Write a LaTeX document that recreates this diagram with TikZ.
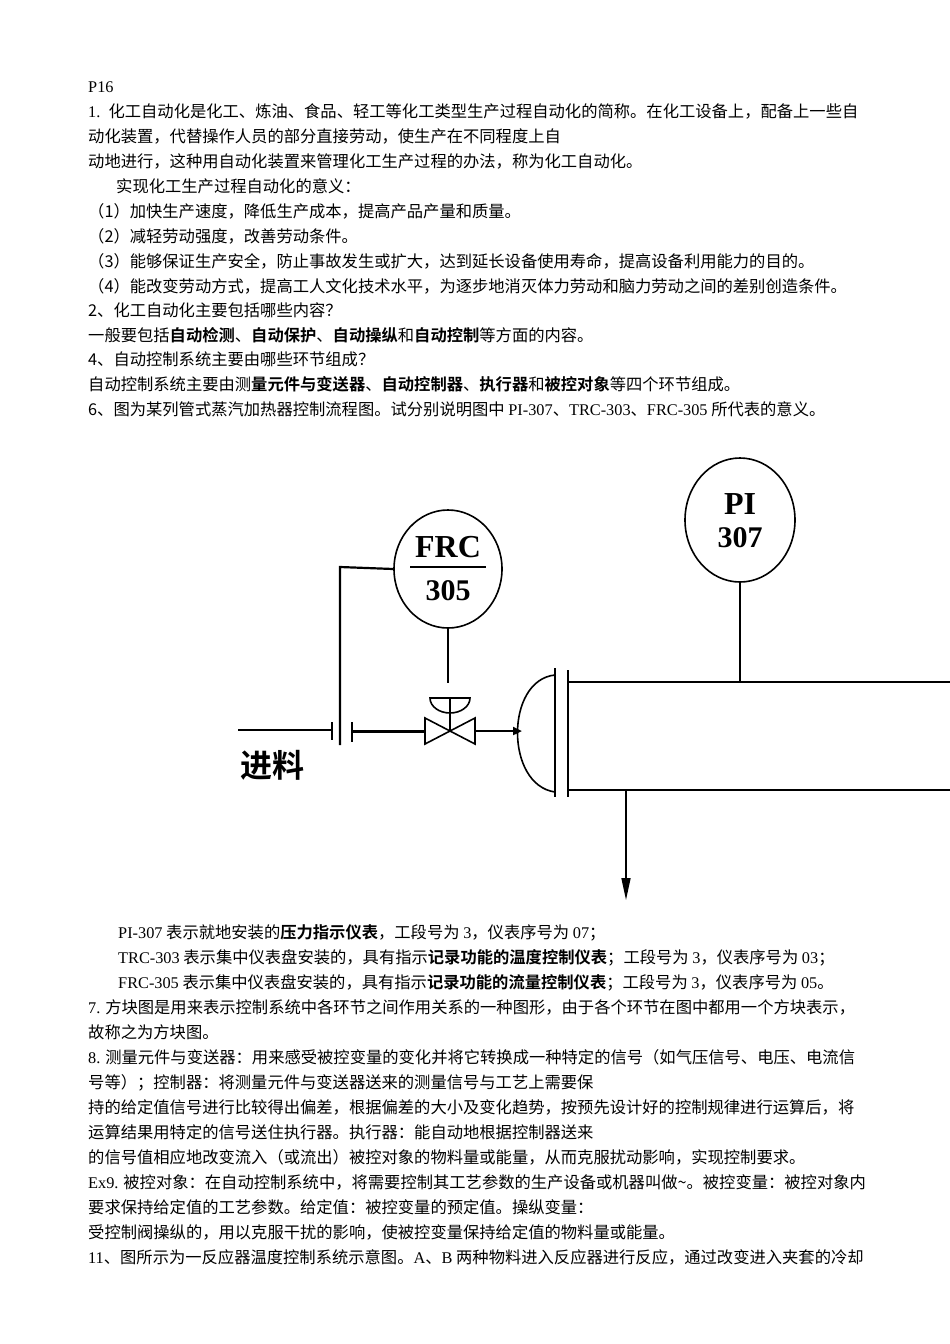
\documentclass[tikz,border=0pt]{standalone}
\usepackage{fontspec}
\setmainfont{Noto Sans CJK SC}[BoldFont={Noto Sans CJK SC Bold}]
\newfontfamily\lat{Liberation Serif}
\usetikzlibrary{arrows.meta,shapes.geometric}
\begin{document}
\begin{tikzpicture}[x=1pt,y=-1pt,
  txt/.style={anchor=base west,inner sep=0pt,font=\fontsize{16.3}{18}\selectfont},
  pipe/.style={line width=2.2pt},
  thin/.style={line width=1.6pt}]
\useasboundingbox[fill=white] (0,0) rectangle (950,1344);
\node[txt] (l0) at (88,92) {\lat P16};
\node[txt] (l1) at (88,117) {\lat 1.\ \ \normalfont 化工自动化是化工、炼油、食品、轻工等化工类型生产过程自动化的简称。在化工设备上，配备上一些自};
\node[txt] (l2) at (88,142) {动化装置，代替操作人员的部分直接劳动，使生产在不同程度上自};
\node[txt] (l3) at (88,167) {动地进行，这种用自动化装置来管理化工生产过程的办法，称为化工自动化。};
\node[txt] (l4) at (116,192) {实现化工生产过程自动化的意义：};
\node[txt] (l5) at (88,217) {（1）加快生产速度，降低生产成本，提高产品产量和质量。};
\node[txt] (l6) at (88,242) {（2）减轻劳动强度，改善劳动条件。};
\node[txt] (l7) at (88,267) {（3）能够保证生产安全，防止事故发生或扩大，达到延长设备使用寿命，提高设备利用能力的目的。};
\node[txt] (l8) at (88,292) {（4）能改变劳动方式，提高工人文化技术水平，为逐步地消灭体力劳动和脑力劳动之间的差别创造条件。};
\node[txt] (l9) at (88,316) {2、化工自动化主要包括哪些内容？};
\node[txt] (l10) at (88,341) {一般要包括\textbf{自动检测}、\textbf{自动保护}、\textbf{自动操纵}和\textbf{自动控制}等方面的内容。};
\node[txt] (l11) at (88,365) {4、自动控制系统主要由哪些环节组成？};
\node[txt] (l12) at (88,390) {自动控制系统主要由测\textbf{量元件与变送器}、\textbf{自动控制器}、\textbf{执行器}和\textbf{被控对象}等四个环节组成。};
\node[txt] (l13) at (88,415) {6、图为某列管式蒸汽加热器控制流程图。试分别说明图中 {\lat PI-307}、{\lat TRC-303}、{\lat FRC-305} 所代表的意义。};
% diagram
\node[draw,line width=1.6pt,ellipse,minimum width=108pt,minimum height=118pt,inner sep=0pt] (frc) at (448,569) {};
\node[font=\lat\fontsize{32}{32}\selectfont\bfseries] (frct) at (448,547) {FRC};
\node[font=\lat\fontsize{30}{30}\selectfont\bfseries] (frcb) at (448,591) {305};
\draw[line width=1.6pt] (410,567) -- (486,567);
\node[draw,line width=1.6pt,ellipse,minimum width=110pt,minimum height=124pt,inner sep=0pt] (pi) at (740,520) {};
\node[font=\lat\fontsize{32}{32}\selectfont\bfseries] (pit) at (740,504) {PI};
\node[font=\lat\fontsize{30}{30}\selectfont\bfseries] (pib) at (740,538) {307};
\coordinate (frcl) at (340,567);
\draw[pipe] (frc.west) -- (frcl) -- (340,745);
\draw[thin] (238,730) -- (332,730); \draw[thin] (332,722) -- (332,740);
\draw[thin] (352,722) -- (352,742);
\draw[line width=3pt] (352,731) -- (425,731);
% valve
\draw[thin] (425,718) -- (425,744) -- (475,718) -- (475,744) -- cycle;
\draw[thin] (450,731) -- (450,698);
\draw[thin] (430,698) arc (180:0:20 and 15) -- cycle;
\coordinate (dome) at (448,683);
\draw[thin] (frc.south) -- (dome);
\draw[pipe,-{Triangle[length=9pt,width=8pt]}] (475,731) -- (522,731);
% head
\draw[thin] (555,675) .. controls (505,680) and (505,785) .. (555,792);
\draw[thin] (555,668) -- (555,797);
\draw[thin] (568,670) -- (568,797);
\draw[thin] (568,682) -- (950,682);
\draw[thin] (568,790) -- (950,790);
\draw[thin] (pi.south) -- (740,682);
\draw[thin,-{Triangle[length=22pt,width=9pt]}] (626,790) -- (626,900);
\node[font=\fontsize{32}{32}\selectfont\bfseries] (jl) at (272,765) {进料};
% lower text
\node[txt] (m1) at (118,938) {{\lat PI-307} 表示就地安装的\textbf{压力指示仪表}，工段号为 {\lat 3}，仪表序号为 {\lat 07}；};
\node[txt] (m2) at (118,963) {{\lat TRC-303} 表示集中仪表盘安装的，具有指示\textbf{记录功能的温度控制仪表}；工段号为 {\lat 3}，仪表序号为 {\lat 03}；};
\node[txt] (m3) at (118,988) {{\lat FRC-305} 表示集中仪表盘安装的，具有指示\textbf{记录功能的流量控制仪表}；工段号为 {\lat 3}，仪表序号为 {\lat 05}。};
\node[txt] (m4) at (88,1013) {{\lat 7.} 方块图是用来表示控制系统中各环节之间作用关系的一种图形，由于各个环节在图中都用一个方块表示，};
\node[txt] (m5) at (88,1038) {故称之为方块图。};
\node[txt] (m6) at (88,1063) {{\lat 8.} 测量元件与变送器：用来感受被控变量的变化并将它转换成一种特定的信号（如气压信号、电压、电流信};
\node[txt] (m7) at (88,1088) {号等）；控制器：将测量元件与变送器送来的测量信号与工艺上需要保};
\node[txt] (m8) at (88,1113) {持的给定值信号进行比较得出偏差，根据偏差的大小及变化趋势，按预先设计好的控制规律进行运算后，将};
\node[txt] (m9) at (88,1138) {运算结果用特定的信号送住执行器。执行器：能自动地根据控制器送来};
\node[txt] (m10) at (88,1163) {的信号值相应地改变流入（或流出）被控对象的物料量或能量，从而克服扰动影响，实现控制要求。};
\node[txt] (m11) at (88,1188) {{\lat Ex9.} 被控对象：在自动控制系统中，将需要控制其工艺参数的生产设备或机器叫做\textasciitilde。被控变量：被控对象内};
\node[txt] (m12) at (88,1213) {要求保持给定值的工艺参数。给定值：被控变量的预定值。操纵变量：};
\node[txt] (m13) at (88,1238) {受控制阀操纵的，用以克服干扰的影响，使被控变量保持给定值的物料量或能量。};
\node[txt] (m14) at (88,1263) {{\lat 11}、图所示为一反应器温度控制系统示意图。{\lat A}、{\lat B} 两种物料进入反应器进行反应，通过改变进入夹套的冷却};
\end{tikzpicture}
\end{document}
